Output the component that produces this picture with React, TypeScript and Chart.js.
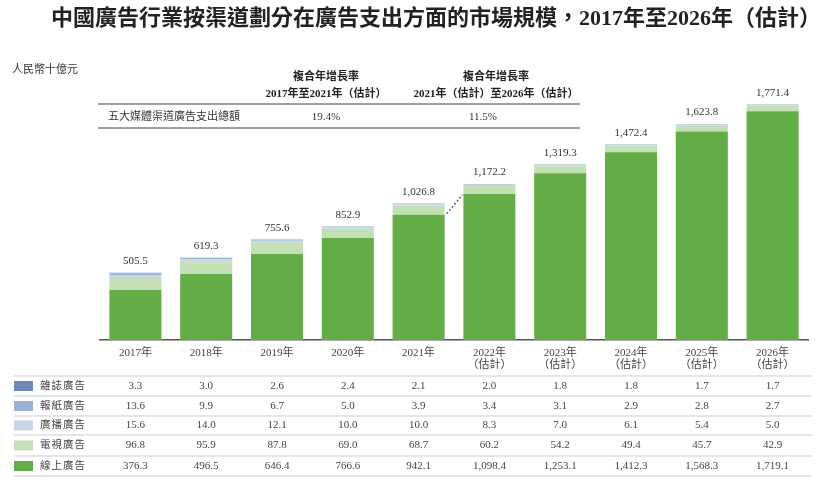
import { useEffect, useRef } from "react";
import { Chart, registerables } from "chart.js";

Chart.register(...registerables);

const years = ["2017年", "2018年", "2019年", "2020年", "2021年", "2022年", "2023年", "2024年", "2025年", "2026年"];
const estimated = [false, false, false, false, false, true, true, true, true, true];
const magazine = [3.3, 3.0, 2.6, 2.4, 2.1, 2.0, 1.8, 1.8, 1.7, 1.7];
const newspaper = [13.6, 9.9, 6.7, 5.0, 3.9, 3.4, 3.1, 2.9, 2.8, 2.7];
const radio = [15.6, 14.0, 12.1, 10.0, 10.0, 8.3, 7.0, 6.1, 5.4, 5.0];
const tv = [96.8, 95.9, 87.8, 69.0, 68.7, 60.2, 54.2, 49.4, 45.7, 42.9];
const online = [376.3, 496.5, 646.4, 766.6, 942.1, 1098.4, 1253.1, 1412.3, 1568.3, 1719.1];
const totals = [505.5, 619.3, 755.6, 852.9, 1026.8, 1172.2, 1319.3, 1472.4, 1623.8, 1771.4];
const seriesNames = ["線上廣告", "電視廣告", "廣播廣告", "報紙廣告", "雜誌廣告"];
const cagrHeader = "複合年增長率";
const cagrPeriods = ["2017年至2021年（估計）", "2021年（估計）至2026年（估計）"];
const cagrRowLabel = "五大媒體渠道廣告支出總額";
const cagrValues = ["19.4%", "11.5%"];
const title = "中國廣告行業按渠道劃分在廣告支出方面的市場規模，2017年至2026年（估計）";
const unitLabel = "人民幣十億元";

const COLORS = ["#63ad46", "#c3e1b5", "#c7d4e9", "#9bb1d6", "#6a88ba"];
const SERIF = '"Liberation Serif", "Noto Sans CJK TC"';

const fmt = (v: number) =>
  v.toLocaleString("en-US", { minimumFractionDigits: 1, maximumFractionDigits: 1 });

const seriesValues = [online, tv, radio, newspaper, magazine];

const overlayPlugin = {
  id: "overlay",
  afterDraw(chart: any) {
    const ctx = chart.ctx as CanvasRenderingContext2D;
    const x = chart.scales.x;
    const y = chart.scales.y;
    ctx.save();

    // Title
    ctx.fillStyle = "#222";
    ctx.font = `bold 22px ${SERIF}`;
    ctx.textAlign = "center";
    ctx.textBaseline = "middle";
    ctx.fillText(title, 436, 19);

    // Unit
    ctx.font = `11px ${SERIF}`;
    ctx.fillStyle = "#333";
    ctx.textAlign = "left";
    ctx.fillText(unitLabel, 12, 70);

    // CAGR table
    const colX = [326, 496];
    ctx.font = `bold 11px ${SERIF}`;
    ctx.textAlign = "center";
    ctx.fillStyle = "#222";
    colX.forEach((cx, i) => {
      ctx.fillText(cagrHeader, cx, 77);
      ctx.fillText(cagrPeriods[i], cx, 94);
    });
    ctx.strokeStyle = "#444";
    ctx.lineWidth = 1.2;
    [104, 128].forEach((ly) => {
      ctx.beginPath();
      ctx.moveTo(98, ly);
      ctx.lineTo(580, ly);
      ctx.stroke();
    });
    ctx.font = `11px ${SERIF}`;
    ctx.fillStyle = "#333";
    ctx.textAlign = "left";
    ctx.fillText(cagrRowLabel, 108, 117);
    ctx.textAlign = "center";
    ctx.fillText(cagrValues[0], 326, 117);
    ctx.fillText(cagrValues[1], 483, 117);

    // Totals above bars
    ctx.font = `11px ${SERIF}`;
    ctx.fillStyle = "#333";
    ctx.textAlign = "center";
    ctx.textBaseline = "bottom";
    totals.forEach((t, i) => {
      ctx.fillText(fmt(t), x.getPixelForValue(i), y.getPixelForValue(t) - 6);
    });

    // Dotted line between online segments 2021 -> 2022
    const meta = chart.getDatasetMeta(0);
    const b4 = meta.data[4];
    const b5 = meta.data[5];
    ctx.strokeStyle = "#444";
    ctx.lineWidth = 1.2;
    ctx.setLineDash([2, 2]);
    ctx.beginPath();
    ctx.moveTo(b4.x + b4.width / 2 + 2, y.getPixelForValue(online[4]) - 1);
    ctx.lineTo(b5.x - b5.width / 2 - 1, y.getPixelForValue(online[5]) + 1);
    ctx.stroke();
    ctx.setLineDash([]);

    // Data table
    const lineYs = [376, 396, 416, 435, 456, 476];
    ctx.strokeStyle = "#dcdcdc";
    ctx.lineWidth = 1.5;
    lineYs.forEach((ly) => {
      ctx.beginPath();
      ctx.moveTo(14, ly);
      ctx.lineTo(812, ly);
      ctx.stroke();
    });
    const rowOrder = [4, 3, 2, 1, 0];
    ctx.textBaseline = "middle";
    rowOrder.forEach((si, r) => {
      const cy = (lineYs[r] + lineYs[r + 1]) / 2;
      ctx.fillStyle = COLORS[si];
      ctx.fillRect(14, cy - 5, 19, 10);
      ctx.fillStyle = "#444";
      ctx.textAlign = "left";
      ctx.font = `10.5px ${SERIF}`;
      (ctx as any).letterSpacing = "1px";
      ctx.fillText(seriesNames[si], 40, cy);
      (ctx as any).letterSpacing = "0px";
      ctx.textAlign = "center";
      ctx.font = `11px ${SERIF}`;
      seriesValues[si].forEach((v, i) => {
        ctx.fillText(fmt(v), x.getPixelForValue(i), cy);
      });
    });

    ctx.restore();
  },
};

export default function App() {
  const ref = useRef<HTMLCanvasElement | null>(null);
  useEffect(() => {
    if (!ref.current) return;
    const labels = years.map((yr, i) => (estimated[i] ? [yr, "（估計）"] : yr));
    const chart = new Chart(ref.current, {
      type: "bar",
      data: {
        labels,
        datasets: seriesValues.map((vals, i) => ({
          label: seriesNames[i],
          data: vals,
          backgroundColor: COLORS[i],
          borderWidth: 0,
          categoryPercentage: 1,
          barPercentage: 0.735,
        })),
      },
      options: {
        responsive: false,
        animation: false,
        layout: { padding: { left: 100, right: 22, top: 74, bottom: 108 } },
        plugins: { legend: { display: false }, tooltip: { enabled: false }, title: { display: false } },
        scales: {
          x: {
            stacked: true,
            grid: { display: false, drawTicks: false },
            border: { display: true, color: "#555", width: 1.5 },
            ticks: {
              color: "#444",
              font: { family: SERIF, size: 11, lineHeight: 1.1 },
              padding: 7,
              maxRotation: 0,
              autoSkip: false,
            },
            afterFit: (scale: any) => {
              scale.height = 36;
            },
          },
          y: { stacked: true, display: false, min: 0, max: 2000 },
        },
      },
      plugins: [overlayPlugin],
    });
    return () => chart.destroy();
  }, []);
  return (
    <div style={{ position: "fixed", left: 0, top: 0, width: 830, height: 484, background: "#fff" }}>
      <canvas ref={ref} width={830} height={484} style={{ width: 830, height: 484 }} />
    </div>
  );
}
